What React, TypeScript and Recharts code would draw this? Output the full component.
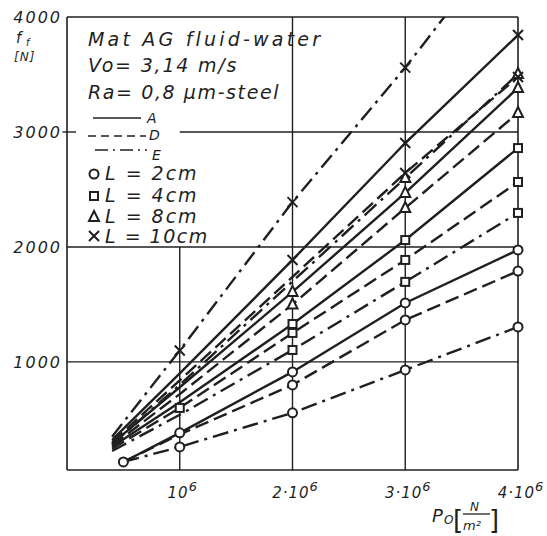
import { Line, LineChart, ReferenceLine, XAxis, YAxis } from "recharts";

// pressure p0 in 10^6 N/m2, friction force in N
const PRESSURE = [0.4, 0.5, 1, 2, 3, 4];
const FORCE_TICKS = [1000, 2000, 3000, 4000];
const PRESSURE_TICKS = [1, 2, 3, 4];
const PRESSURE_LABELS = ["10", "2·10", "3·10", "4·10"];

const L2_A = [null, 130, 383, 913, 1513, 1974];
const L2_D = [null, 130, 370, 800, 1365, 1790];
const L2_E = [null, 130, 261, 557, 930, 1304];
const L4_A = [262, null, 650, 1330, 2060, 2860];
const L4_D = [245, null, 600, 1252, 1887, 2565];
const L4_E = [225, null, 540, 1104, 1696, 2296];
const L8_A = [292, null, 780, 1609, 2470, 3383];
const L8_D = [272, null, 720, 1500, 2339, 3165];
const L8_E = [282, null, 800, 1700, 2600, 3504];
const L10_A = [322, null, 900, 1887, 2904, 3843];
const L10_D = [302, null, 840, 1740, 2643, 3478];
const L10_E = [350, null, 1100, 2390, 3560, 4830];

type Mark = "circle" | "square" | "triangle" | "cross";
type Kind = "A" | "D" | "E";

const SERIES: { key: string; values: (number | null)[]; kind: Kind; mark: Mark; dotFrom: number }[] = [
  { key: "L2_A", values: L2_A, kind: "A", mark: "circle", dotFrom: 0.5 },
  { key: "L2_D", values: L2_D, kind: "D", mark: "circle", dotFrom: 2 },
  { key: "L2_E", values: L2_E, kind: "E", mark: "circle", dotFrom: 1 },
  { key: "L4_A", values: L4_A, kind: "A", mark: "square", dotFrom: 2 },
  { key: "L4_D", values: L4_D, kind: "D", mark: "square", dotFrom: 1 },
  { key: "L4_E", values: L4_E, kind: "E", mark: "square", dotFrom: 2 },
  { key: "L8_A", values: L8_A, kind: "A", mark: "triangle", dotFrom: 2 },
  { key: "L8_D", values: L8_D, kind: "D", mark: "triangle", dotFrom: 2 },
  { key: "L8_E", values: L8_E, kind: "E", mark: "triangle", dotFrom: 3 },
  { key: "L10_A", values: L10_A, kind: "A", mark: "cross", dotFrom: 2 },
  { key: "L10_D", values: L10_D, kind: "D", mark: "cross", dotFrom: 3 },
  { key: "L10_E", values: L10_E, kind: "E", mark: "cross", dotFrom: 1 },
];

const data = PRESSURE.map((p, i) => {
  const row: Record<string, number | null> = { p };
  SERIES.forEach((s) => (row[s.key] = s.values[i]));
  return row;
});

const INK = "#1f1f1f";
const FONT = "'DejaVu Sans', sans-serif";
const DASH: Record<Kind, string | undefined> = { A: undefined, D: "14 6", E: "16 6 3 6" };

function Marker({ cx, cy, mark }: { cx: number; cy: number; mark: Mark }) {
  if (mark === "circle") return <circle cx={cx} cy={cy} r={4.5} fill="#fff" stroke={INK} strokeWidth={2} />;
  if (mark === "square") return <rect x={cx - 4} y={cy - 4} width={8} height={8} fill="#fff" stroke={INK} strokeWidth={2} />;
  if (mark === "triangle")
    return <path d={`M${cx},${cy - 6} L${cx + 5},${cy + 4} L${cx - 5},${cy + 4} Z`} fill="#fff" stroke={INK} strokeWidth={2} />;
  return <path d={`M${cx - 5},${cy - 5} L${cx + 5},${cy + 5} M${cx + 5},${cy - 5} L${cx - 5},${cy + 5}`} stroke={INK} strokeWidth={2} />;
}

function dotFor(mark: Mark, from: number) {
  return (props: any) => {
    const { cx, cy, value, payload, index } = props;
    const key = `${mark}-${index}-${cx}`;
    if (value == null || cx == null || cy == null || payload.p < from || value > 4000) return <g key={key} />;
    return (
      <g key={key}>
        <Marker cx={cx} cy={cy} mark={mark} />
      </g>
    );
  };
}

function ForceTick({ x, y, payload }: any) {
  return (
    <text x={x + 3} y={y + 6} textAnchor="end" fontFamily={FONT} fontStyle="italic" fontSize={16} letterSpacing={2} fill={INK}>
      {payload.value}
    </text>
  );
}

function PressureTick({ x, y, payload }: any) {
  const i = PRESSURE_TICKS.indexOf(payload.value);
  return (
    <text x={x + 3} y={y + 20} textAnchor="middle" fontFamily={FONT} fontStyle="italic" fontSize={15} letterSpacing={1} fill={INK}>
      {PRESSURE_LABELS[i]}
      <tspan dy={-7} fontSize={13}>6</tspan>
    </text>
  );
}

export default function App() {
  return (
    <div style={{ position: "absolute", left: 0, top: 0, width: 547, height: 536, background: "#fff" }}>
      <LineChart width={547} height={536} data={data} margin={{ top: 17, right: 29, bottom: 0, left: 0 }}>
        <XAxis
          dataKey="p"
          type="number"
          domain={[0, 4]}
          ticks={PRESSURE_TICKS}
          tick={<PressureTick />}
          tickLine={false}
          axisLine={{ stroke: INK, strokeWidth: 1.6 }}
          height={66}
        />
        <YAxis
          type="number"
          domain={[60, 4000]}
          allowDataOverflow
          ticks={FORCE_TICKS}
          tick={<ForceTick />}
          tickLine={false}
          axisLine={{ stroke: INK, strokeWidth: 1.6 }}
          width={67}
        />
        <ReferenceLine y={4000} stroke={INK} strokeWidth={1.6} />
        <ReferenceLine x={4} stroke={INK} strokeWidth={1.6} />
        <ReferenceLine y={1000} stroke={INK} strokeWidth={1.4} />
        <ReferenceLine y={2000} stroke={INK} strokeWidth={1.4} />
        <ReferenceLine segment={[{ x: 1, y: 3000 }, { x: 4, y: 3000 }]} stroke={INK} strokeWidth={1.4} />
        <ReferenceLine segment={[{ x: -0.04, y: 3000 }, { x: 0.08, y: 3000 }]} stroke={INK} strokeWidth={1.4} ifOverflow="visible" />
        <ReferenceLine segment={[{ x: 1, y: 60 }, { x: 1, y: 2000 }]} stroke={INK} strokeWidth={1.4} />
        <ReferenceLine x={2} stroke={INK} strokeWidth={1.4} />
        <ReferenceLine x={3} stroke={INK} strokeWidth={1.4} />
        {SERIES.map((s) => (
          <Line
            key={s.key}
            dataKey={s.key}
            type="linear"
            stroke={INK}
            strokeWidth={2.4}
            strokeDasharray={DASH[s.kind]}
            connectNulls
            dot={dotFor(s.mark, s.dotFrom)}
            activeDot={false}
            isAnimationActive={false}
          />
        ))}
      </LineChart>
      <svg width={547} height={536} style={{ position: "absolute", left: 0, top: 0, pointerEvents: "none" }}>
        <g fontFamily={FONT} fontStyle="italic" fill={INK}>
          <text x={16} y={43} fontSize={15}>f</text>
          <text x={26} y={46} fontSize={10}>f</text>
          <text x={14} y={61} fontSize={12} letterSpacing={1}>[N]</text>

          <text x={88} y={46} fontSize={19} letterSpacing={3.2}>Mat AG fluid-water</text>
          <text x={88} y={72} fontSize={19} letterSpacing={1.8}>Vo= 3,14 m/s</text>
          <text x={88} y={99} fontSize={19} letterSpacing={1.6}>Ra= 0,8 μm-steel</text>

          <line x1={93} x2={141} y1={118} y2={118} stroke={INK} strokeWidth={1.6} />
          <text x={147} y={123} fontSize={14}>A</text>
          <line x1={88} x2={146} y1={136} y2={136} stroke={INK} strokeWidth={1.6} strokeDasharray="8 5" />
          <text x={149} y={140} fontSize={14}>D</text>
          <line x1={95} x2={147} y1={150} y2={150} stroke={INK} strokeWidth={1.6} strokeDasharray="13 5 2 5" />
          <text x={152} y={160} fontSize={14}>E</text>

          <Marker cx={94} cy={174} mark="circle" />
          <text x={105} y={180} fontSize={19} letterSpacing={2}>L = 2cm</text>
          <Marker cx={94} cy={196} mark="square" />
          <text x={105} y={202} fontSize={19} letterSpacing={2}>L = 4cm</text>
          <Marker cx={94} cy={217} mark="triangle" />
          <text x={105} y={223} fontSize={19} letterSpacing={2}>L = 8cm</text>
          <Marker cx={94} cy={236} mark="cross" />
          <text x={105} y={243} fontSize={19} letterSpacing={1.5}>L = 10cm</text>

          <text x={432} y={522} fontSize={18}>P</text>
          <text x={444} y={524} fontSize={12}>O</text>
          <text x={453} y={529} fontSize={26} fontStyle="normal">[</text>
          <text x={470} y={511} fontSize={12}>N</text>
          <line x1={463} x2={490} y1={514} y2={514} stroke={INK} strokeWidth={1.3} />
          <text x={463} y={530} fontSize={13}>m²</text>
          <text x={489} y={529} fontSize={26} fontStyle="normal">]</text>
        </g>
      </svg>
    </div>
  );
}
